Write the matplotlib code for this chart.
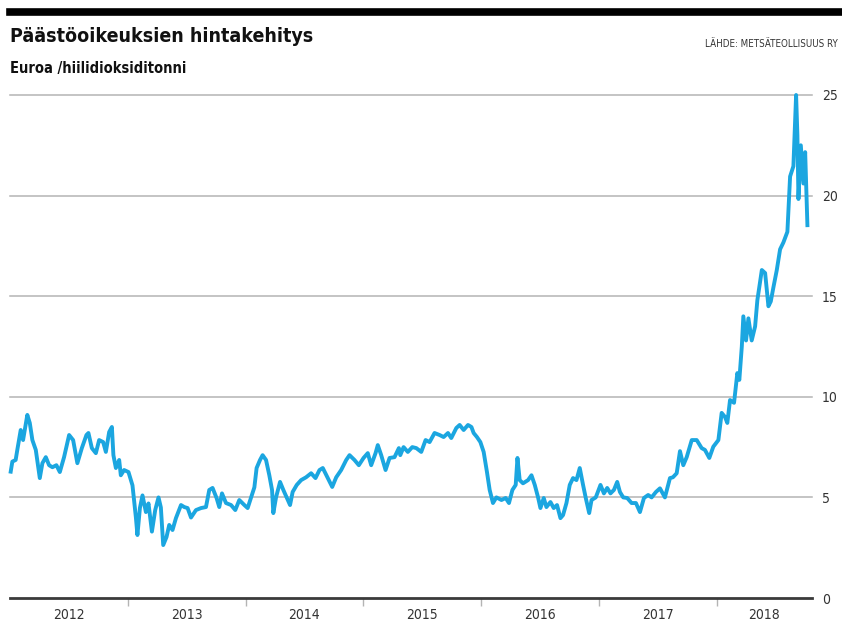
import matplotlib
matplotlib.use("Agg")
import matplotlib.pyplot as plt
from matplotlib.lines import Line2D

# Päästöoikeuden hinta (EUR / t CO2), luettu kuvasta
dates = [
    2012.006, 2012.020, 2012.048, 2012.062, 2012.091, 2012.111, 2012.147, 2012.168,
    2012.190, 2012.219, 2012.253, 2012.275, 2012.304, 2012.332, 2012.360, 2012.394,
    2012.423, 2012.459, 2012.502, 2012.536, 2012.572, 2012.610, 2012.649, 2012.666,
    2012.695, 2012.729, 2012.757, 2012.791, 2012.814, 2012.842, 2012.865, 2012.878,
    2012.899, 2012.927, 2012.941, 2012.969, 2013.006, 2013.040, 2013.069, 2013.082,
    2013.103, 2013.125, 2013.154, 2013.176, 2013.205, 2013.233, 2013.261, 2013.281,
    2013.301, 2013.329, 2013.352, 2013.380, 2013.409, 2013.452, 2013.480, 2013.508,
    2013.537, 2013.579, 2013.622, 2013.664, 2013.692, 2013.720, 2013.754, 2013.777,
    2013.800, 2013.834, 2013.877, 2013.913, 2013.947, 2013.990, 2014.018, 2014.047,
    2014.075, 2014.094, 2014.123, 2014.145, 2014.174, 2014.202, 2014.225, 2014.236,
    2014.259, 2014.293, 2014.321, 2014.349, 2014.378, 2014.400, 2014.435, 2014.472,
    2014.514, 2014.557, 2014.594, 2014.628, 2014.656, 2014.698, 2014.736, 2014.770,
    2014.812, 2014.855, 2014.883, 2014.925, 2014.962, 2015.002, 2015.038, 2015.067,
    2015.104, 2015.123, 2015.152, 2015.189, 2015.223, 2015.265, 2015.302, 2015.314,
    2015.342, 2015.378, 2015.416, 2015.450, 2015.492, 2015.529, 2015.563, 2015.605,
    2015.648, 2015.682, 2015.719, 2015.747, 2015.790, 2015.818, 2015.852, 2015.889,
    2015.918, 2015.937, 2015.965, 2015.994, 2016.022, 2016.050, 2016.073, 2016.101,
    2016.130, 2016.173, 2016.209, 2016.237, 2016.266, 2016.294, 2016.309, 2016.328,
    2016.356, 2016.399, 2016.428, 2016.456, 2016.484, 2016.504, 2016.532, 2016.555,
    2016.589, 2016.617, 2016.645, 2016.674, 2016.696, 2016.725, 2016.753, 2016.781,
    2016.810, 2016.838, 2016.866, 2016.889, 2016.918, 2016.938, 2016.974, 2017.014,
    2017.043, 2017.071, 2017.099, 2017.128, 2017.156, 2017.179, 2017.207, 2017.241,
    2017.278, 2017.315, 2017.349, 2017.383, 2017.419, 2017.448, 2017.485, 2017.519,
    2017.561, 2017.604, 2017.629, 2017.661, 2017.689, 2017.717, 2017.746, 2017.789,
    2017.831, 2017.873, 2017.901, 2017.938, 2017.972, 2018.015, 2018.043, 2018.071,
    2018.091, 2018.114, 2018.148, 2018.176, 2018.193, 2018.214, 2018.227, 2018.250,
    2018.270, 2018.298, 2018.327, 2018.346, 2018.384, 2018.412, 2018.440, 2018.460,
    2018.482, 2018.511, 2018.539, 2018.567, 2018.601, 2018.624, 2018.652, 2018.675,
    2018.686, 2018.695, 2018.715, 2018.737, 2018.752, 2018.766, 2018.771,
]
prices = [
    6.28, 6.78, 6.86, 7.36, 8.35, 7.85, 9.10, 8.70,
    7.85, 7.36, 5.96, 6.70, 7.00, 6.60, 6.50, 6.60,
    6.26, 7.00, 8.10, 7.85, 6.70, 7.45, 8.10, 8.20,
    7.45, 7.20, 7.85, 7.75, 7.26, 8.25, 8.50, 7.10,
    6.46, 6.86, 6.10, 6.36, 6.26, 5.60, 4.00, 3.13,
    4.47, 5.10, 4.27, 4.70, 3.30, 4.37, 5.00, 4.50,
    2.63, 3.03, 3.63, 3.38, 3.97, 4.62, 4.52, 4.47,
    4.00, 4.37, 4.47, 4.52, 5.37, 5.47, 4.97, 4.52,
    5.20, 4.72, 4.62, 4.37, 4.87, 4.62, 4.47, 5.00,
    5.50, 6.46, 6.86, 7.10, 6.86, 6.10, 5.37, 4.22,
    5.00, 5.77, 5.37, 5.00, 4.62, 5.27, 5.62, 5.86,
    6.00, 6.20, 5.96, 6.36, 6.46, 5.96, 5.52, 6.00,
    6.36, 6.86, 7.10, 6.86, 6.60, 6.96, 7.20, 6.60,
    7.20, 7.60, 7.10, 6.36, 6.96, 7.00, 7.45, 7.10,
    7.50, 7.26, 7.50, 7.45, 7.26, 7.85, 7.75, 8.20,
    8.10, 8.00, 8.20, 7.95, 8.45, 8.60, 8.35, 8.60,
    8.50, 8.20, 8.00, 7.75, 7.26, 6.26, 5.37, 4.72,
    5.00, 4.87, 4.97, 4.72, 5.37, 5.62, 6.96, 5.86,
    5.70, 5.86, 6.10, 5.62, 5.00, 4.47, 4.97, 4.52,
    4.77, 4.47, 4.62, 3.97, 4.12, 4.72, 5.62, 5.96,
    5.86, 6.46, 5.62, 4.97, 4.22, 4.87, 5.00, 5.62,
    5.20, 5.47, 5.20, 5.37, 5.77, 5.27, 5.00, 4.97,
    4.72, 4.72, 4.27, 4.97, 5.12, 5.00, 5.27, 5.45,
    5.00, 5.96, 6.00, 6.20, 7.30, 6.60, 7.00, 7.85,
    7.85, 7.45, 7.36, 6.96, 7.52, 7.85, 9.20, 9.00,
    8.70, 9.84, 9.70, 11.18, 10.84, 12.50, 14.00, 12.80,
    13.90, 12.80, 13.50, 14.80, 16.30, 16.15, 14.50, 14.74,
    15.43, 16.30, 17.33, 17.67, 18.20, 20.95, 21.46, 25.00,
    23.00, 19.83, 22.50, 20.60, 22.16, 19.57, 18.53,
]

years = [2012, 2013, 2014, 2015, 2016, 2017, 2018]
y_ticks = [0, 5, 10, 15, 20, 25]
x_end = 2018.81

title = "Päästöoikeuksien hintakehitys"
subtitle = "Euroa /hiilidioksiditonni"
source = "LÄHDE: METSÄTEOLLISUUS RY"

line_color = "#1ba6e0"
grid_color = "#b4b4b4"
text_color = "#333333"
fnt = dict(family="DejaVu Sans", fontstretch="condensed")

fig = plt.figure(figsize=(8.42, 6.26), dpi=100)
ax = fig.add_axes([10 / 842, 28 / 626, 802 / 842, 503 / 626])

# gridlines (0-line is drawn as the axis)
for v in y_ticks[1:]:
    ax.axhline(v, color=grid_color, lw=1.1, zorder=1, clip_on=False)
ax.axhline(0, color="#3a3a3a", lw=2.0, zorder=2, clip_on=False)

ax.plot(dates, prices, color=line_color, lw=2.8, solid_joinstyle="round",
        zorder=3, clip_on=False)

ax.set_xlim(2012, x_end)
ax.set_ylim(0, 25)

for s in ax.spines.values():
    s.set_visible(False)

# y labels on the right
ax.yaxis.tick_right()
ax.set_yticks(y_ticks)
ax.set_yticklabels([str(v) for v in y_ticks], fontsize=10, color=text_color, **fnt)
ax.tick_params(axis="y", length=0, pad=7)

# year separators as major ticks, year names as minor labels
ax.set_xticks(years[1:])
ax.set_xticklabels([])
ax.tick_params(axis="x", which="major", length=6, width=1, color=grid_color,
               direction="out")
centers = [y + 0.5 for y in years[:-1]] + [(years[-1] + x_end) / 2]
ax.set_xticks(centers, minor=True)
ax.set_xticklabels([str(y) for y in years], minor=True, fontsize=10,
                   color=text_color, **fnt)
ax.tick_params(axis="x", which="minor", length=0, pad=7)

# header
fig.add_artist(Line2D([10 / 842, 1.0], [1 - 12 / 626, 1 - 12 / 626],
                      color="black", lw=5.5))
fig.text(10 / 842, 1 - 36 / 626, title, fontsize=14, fontweight="bold",
         va="center", ha="left", color="#111111", **fnt)
fig.text(10 / 842, 1 - 68 / 626, subtitle, fontsize=10.5, fontweight="bold",
         va="center", ha="left", color="#111111", **fnt)
fig.text(838 / 842, 1 - 44 / 626, source, fontsize=7, va="center", ha="right",
         color=text_color, **fnt)

fig.savefig("out.png", dpi=100)
